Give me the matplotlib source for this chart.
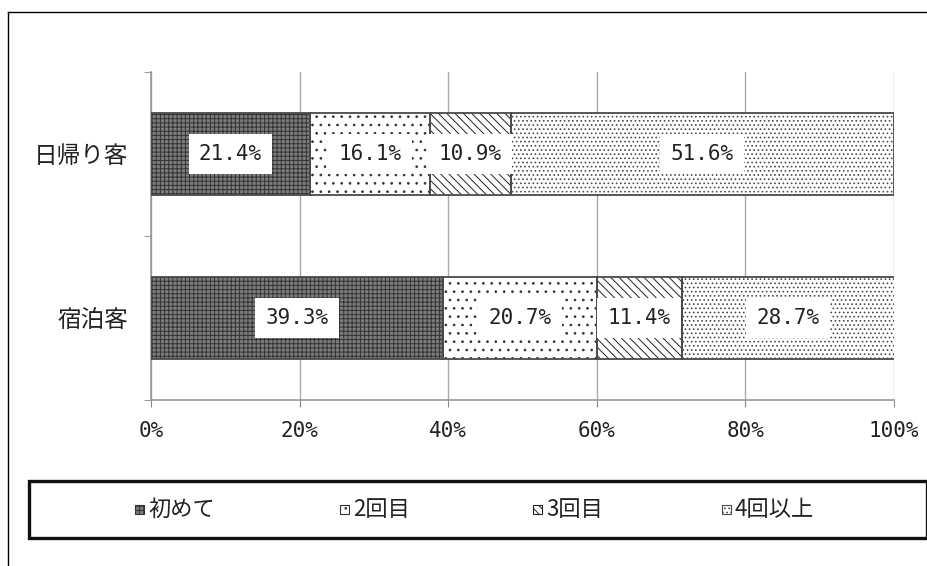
import numpy as np
import matplotlib
matplotlib.use("Agg")
from matplotlib import pyplot as plt
from matplotlib.patches import Rectangle
from matplotlib.lines import Line2D

# ---- data ----
categories = ["日帰り客", "宿泊客"]
series_names = ["初めて", "2回目", "3回目", "4回以上"]
day_trip = [21.4, 16.1, 10.9, 51.6]
overnight = [39.3, 20.7, 11.4, 28.7]
x_ticks = [0, 20, 40, 60, 80, 100]

# ---- styles ----
faces = ["#7c7c7c", "white", "white", "white"]
hatch_colors = ["#333333", "#333333", "#222222", "#4a4a4a"]
hatches = ["++++", "..", "\\\\\\\\", "...."]

plt.rcParams["font.family"] = ["Noto Sans CJK JP", "DejaVu Sans"]
plt.rcParams["hatch.linewidth"] = 0.7

W, H = 928, 566
fig = plt.figure(figsize=(W / 100, H / 100), dpi=100)
ax = fig.add_axes([151 / W, 1 - 400 / H, (894 - 151) / W, (400 - 72) / H])

values = np.array([day_trip, overnight])
ypos = np.arange(len(categories))
lefts = np.zeros(len(categories))
for i, name in enumerate(series_names):
    vals = values[:, i]
    ax.barh(ypos, vals, left=lefts, height=0.5, color=faces[i],
            edgecolor=hatch_colors[i], hatch=hatches[i], linewidth=0, zorder=2)
    ax.barh(ypos, vals, left=lefts, height=0.5, fill=False,
            edgecolor="#4a4a4a", linewidth=1.3, zorder=3)
    for y, l, v in zip(ypos, lefts, vals):
        ax.text(l + v / 2, y, f"{v:.1f}%", ha="center", va="center",
                family="DejaVu Sans Mono", fontsize=15, color="#222222", zorder=5,
                bbox=dict(boxstyle="square,pad=0.5", facecolor="white", edgecolor="none"))
    lefts = lefts + vals

ax.set_xlim(0, 100)
ax.set_ylim(1.5, -0.5)
ax.set_xticks(x_ticks)
ax.set_xticklabels([f"{t}%" for t in x_ticks], family="DejaVu Sans Mono", fontsize=15, color="#222222")
ax.set_yticks(ypos)
ax.set_yticklabels(categories, fontsize=17, color="#222222")
ax.set_yticks([-0.5, 0.5, 1.5], minor=True)
ax.tick_params(axis="y", which="major", length=0, pad=16)
ax.tick_params(axis="y", which="minor", length=5, color="#888888", direction="out")
ax.tick_params(axis="x", length=5, color="#888888", direction="out", pad=10)

ax.grid(axis="x", color="#aaaaaa", linewidth=1)
ax.set_axisbelow(True)
for s in ["top", "right"]:
    ax.spines[s].set_visible(False)
for s in ["left", "bottom"]:
    ax.spines[s].set_color("#999999")
    ax.spines[s].set_linewidth(1.2)

# outer frame (only left and top edges visible)
fig.add_artist(Line2D([8 / W, 8 / W], [0, 1 - 12 / H], color="black", linewidth=1))
fig.add_artist(Line2D([8 / W, 1], [1 - 12 / H, 1 - 12 / H], color="black", linewidth=1))

# legend box
fig.add_artist(Rectangle((29 / W, 1 - 538 / H), (927 - 29) / W, 57 / H,
                         transform=fig.transFigure, fill=False, edgecolor="#111111", linewidth=2.4))
legend_x = [135, 340, 533, 722]
for i, name in enumerate(series_names):
    x0 = legend_x[i]
    fig.add_artist(Rectangle((x0 / W, 1 - 514 / H), 9 / W, 9 / H, transform=fig.transFigure,
                             facecolor=faces[i], edgecolor=hatch_colors[i], hatch=hatches[i],
                             linewidth=0.8))
    fig.text((x0 + 13) / W, 1 - 509 / H, name, fontsize=16, color="#222222", va="center")

fig.savefig("out.png", dpi=100)
